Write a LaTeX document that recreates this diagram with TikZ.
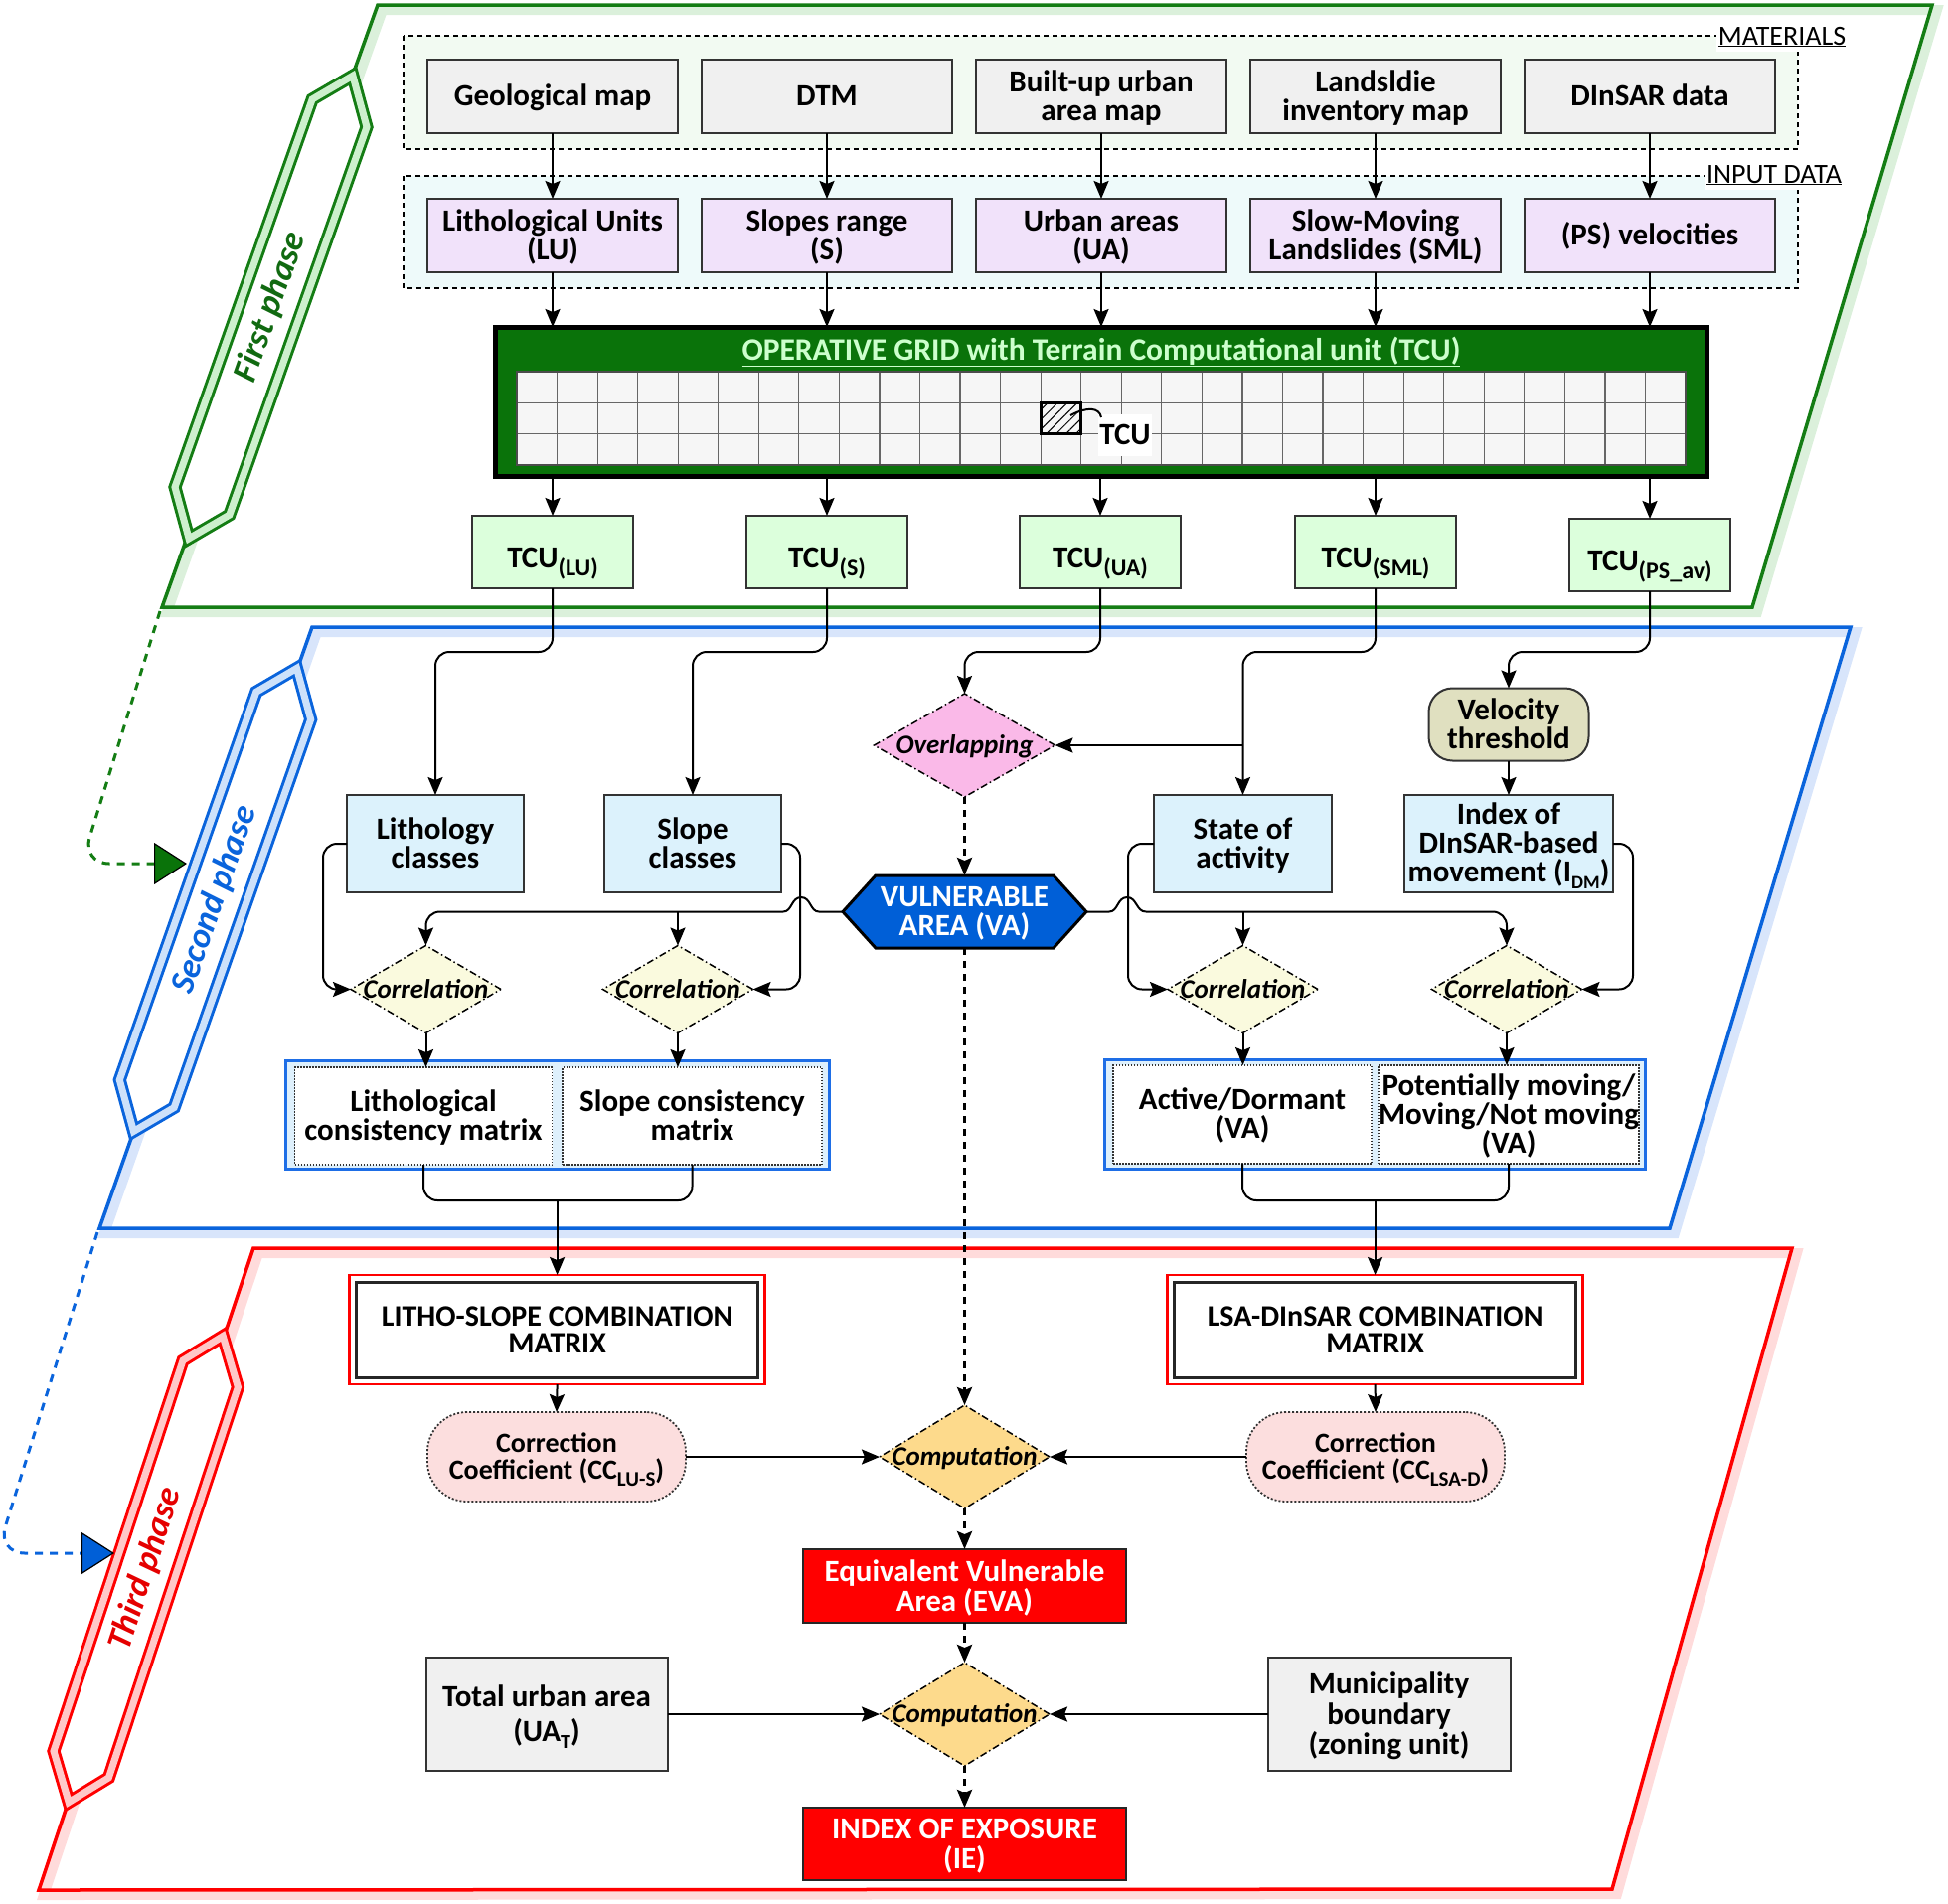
\documentclass[tikz,border=0pt]{standalone}
\usepackage{fontspec}
\setmainfont{Carlito}
\usetikzlibrary{arrows.meta,shapes.geometric,patterns.meta,calc}
\newcommand\setfs[2]{\fontsize{#1}{#2}\selectfont}
\newcommand\lsub[2][22]{\raisebox{-7pt}[0pt][0pt]{\fontsize{#1}{#1}\selectfont #2}}
\newcommand\tcusub[1]{\rule{0pt}{44pt}TCU\raisebox{-8pt}{\fontsize{24}{24}\selectfont #1}}
\newcommand\T[1]{\rule{0pt}{0.904em}#1\rule[-0.26em]{0pt}{0.26em}}
\definecolor{pgreen}{RGB}{20,125,20}
\definecolor{pgreenL}{RGB}{205,240,205}
\definecolor{pgreenS}{RGB}{195,230,195}
\definecolor{pblue}{RGB}{10,100,220}
\definecolor{pblueL}{RGB}{205,225,250}
\definecolor{pblueS}{RGB}{190,212,248}
\definecolor{pred}{RGB}{255,0,0}
\definecolor{predL}{RGB}{255,200,200}
\definecolor{predS}{RGB}{255,195,195}
\definecolor{matfill}{RGB}{242,250,242}
\definecolor{inpfill}{RGB}{238,250,250}
\definecolor{grayfill}{RGB}{240,240,240}
\definecolor{lavfill}{RGB}{241,226,250}
\definecolor{gridgreen}{RGB}{10,115,10}
\definecolor{tcufill}{RGB}{220,255,220}
\definecolor{lbfill}{RGB}{220,242,252}
\definecolor{pinkdia}{RGB}{250,185,232}
\definecolor{ylwdia}{RGB}{250,250,222}
\definecolor{velfill}{RGB}{224,224,192}
\definecolor{vablue}{RGB}{0,95,215}
\definecolor{grpblue}{RGB}{30,110,230}
\definecolor{grpfill}{RGB}{222,240,252}
\definecolor{ccfill}{RGB}{252,222,222}
\definecolor{compfill}{RGB}{253,218,140}
\definecolor{titlegreen}{RGB}{205,255,205}
\tikzset{
  every node/.style={inner sep=0pt, outer sep=0pt},
  tx/.style={font=\setfs{31}{29}\bfseries, align=center},
  wh/.style 2 args={minimum width=#1, minimum height=#2},
  nbox/.style={tx, draw=black!80, line width=2pt},
  arr/.style={line width=2pt, -{Stealth[length=18pt,width=15pt,inset=3pt]}},
  darr/.style={line width=3pt, dash pattern=on 7pt off 6pt, -{Stealth[length=18pt,width=15pt,inset=3pt]}},
  diam/.style={shape=diamond, draw=black, line width=1.5pt, dash pattern=on 7pt off 3pt on 1.5pt off 3pt},
  dlab/.style={font=\setfs{27}{27}\bfseries\itshape},
  framebox/.style={fill=#1, line width=2.2pt, dash pattern=on 5pt off 4pt},
  phaseband/.style={draw=#1, line width=3pt, double distance=7pt, fill=white},
  inbox/.style={tx, fill=white, draw=black!80, line width=1.5pt, dash pattern=on 1.5pt off 1.5pt},
  flab/.style={fill=white, inner xsep=2pt, font=\setfs{28}{28}},
}
\begin{document}
\begin{tikzpicture}[x=1pt,y=-1pt]
\useasboundingbox (0,0) rectangle (1960,1915);

% ---------- phase frames ----------
\draw[pgreenS, line width=10pt, opacity=0.6, shift={(5,5)}] (380,5) -- (1944,5) -- (1763,611) -- (163,611) -- cycle;
\draw[pgreen, line width=3.5pt] (380,5) -- (1944,5) -- (1763,611) -- (163,611) -- cycle;
\draw[pblueS, line width=10pt, opacity=0.6, shift={(5,5)}] (314,631) -- (1862,631) -- (1680,1236) -- (100,1236) -- cycle;
\draw[pblue, line width=3.5pt] (314,631) -- (1862,631) -- (1680,1236) -- (100,1236) -- cycle;
\draw[predS, line width=10pt, opacity=0.6, shift={(5,5)}] (255,1256) -- (1803,1256) -- (1622,1901) -- (39,1902) -- cycle;
\draw[pred, line width=3.5pt] (255,1256) -- (1803,1256) -- (1622,1901) -- (39,1902) -- cycle;

% phase labels
\begin{scope}[shift={(272.5,309)}, rotate=70.5]
\draw[phaseband=pgreen, double=pgreenL] (247,0) -- (203,30.5) -- (-211,30.5) -- (-247,0) -- (-203,-30.5) -- (211,-30.5) -- cycle;
\node[rotate=70.5, text=pgreen!85!black, font=\setfs{35}{35}\bfseries\itshape] (ph1) at (0,0) {First phase};
\end{scope}
\begin{scope}[shift={(216.5,905.4)}, rotate=70.6]
\draw[phaseband=pblue, double=pblueL] (247,0) -- (203,30.5) -- (-211,30.5) -- (-247,0) -- (-203,-30.5) -- (211,-30.5) -- cycle;
\node[rotate=70.6, text=pblue, font=\setfs{35}{35}\bfseries\itshape] (ph2) at (0,0) {Second phase};
\end{scope}
\begin{scope}[shift={(146.7,1579)}, rotate=71.7]
\draw[phaseband=pred, double=predL] (247,0) -- (203,30.5) -- (-211,30.5) -- (-247,0) -- (-203,-30.5) -- (211,-30.5) -- cycle;
\node[rotate=71.7, text=pred!90!black, font=\setfs{35}{35}\bfseries\itshape] (ph3) at (0,0) {Third phase};
\end{scope}

% phase links
\coordinate (g1s) at (161,615);
\coordinate (g1e) at (188,869);
\draw[pgreen, line width=3pt, dash pattern=on 8pt off 7pt, rounded corners=28pt,
  -{Triangle[length=33pt,width=42pt,color=black,fill=gridgreen,line width=1.2pt]}]
  (g1s) -- (82,869) -- (g1e);
\coordinate (b1s) at (98,1240);
\coordinate (b1e) at (115,1563);
\draw[pblue, line width=3pt, dash pattern=on 8pt off 7pt, rounded corners=28pt,
  -{Triangle[length=33pt,width=42pt,color=black,fill=vablue,line width=1.2pt]}]
  (b1s) -- (-3,1563) -- (b1e);

% ---------- first phase ----------
\draw[framebox=matfill] (406,36) rectangle (1809,150);
\node[flab] (matlab) at (1793,36) {\T{\underline{MATERIALS}}};
\draw[framebox=inpfill] (406,177) rectangle (1809,290);
\node[flab] (inplab) at (1785,175) {\T{\underline{INPUT DATA}}};

\node[nbox, fill=grayfill, wh={252}{74}] (geo) at (556,97) {\T{Geological map}};
\node[nbox, fill=grayfill, wh={252}{74}] (dtm) at (832,97) {\T{DTM}};
\node[nbox, fill=grayfill, wh={252}{74}] (bua) at (1108,97) {\T{Built-up urban\\area map}};
\node[nbox, fill=grayfill, wh={252}{74}] (lim) at (1384,97) {\T{Landsldie\\inventory map}};
\node[nbox, fill=grayfill, wh={252}{74}] (dins) at (1660,97) {\T{DInSAR data}};

\node[nbox, fill=lavfill, wh={252}{74}] (lu) at (556,237) {\T{Lithological Units\\(LU)}};
\node[nbox, fill=lavfill, wh={252}{74}] (sr) at (832,237) {\T{Slopes range\\(S)}};
\node[nbox, fill=lavfill, wh={252}{74}] (ua) at (1108,237) {\T{Urban areas\\(UA)}};
\node[nbox, fill=lavfill, wh={252}{74}] (sml) at (1384,237) {\T{Slow-Moving\\Landslides (SML)}};
\node[nbox, fill=lavfill, wh={252}{74}] (ps) at (1660,237) {\T{(PS) velocities}};

\foreach \a/\b in {geo/lu, dtm/sr, bua/ua, lim/sml, dins/ps}
  \draw[arr] (\a.south) -- (\b.north);

% operative grid
\node[draw=black, line width=5pt, fill=gridgreen, wh={1219}{150}] (grid) at (1107.5,404) {};
\node[font=\setfs{31.5}{30}\bfseries, text=titlegreen] (gtitle) at (1108,352) {\T{\underline{OPERATIVE GRID with Terrain Computational unit (TCU)}}};
\fill[gray!7] (520,374) rectangle (1696,468);
\foreach \i in {1,...,28}
  \draw[black!60, line width=1.2pt] ({520+\i*40.552},374) -- ({520+\i*40.552},468);
\foreach \j in {1,2}
  \draw[black!60, line width=1.2pt] (520,{374+\j*31.33}) -- (1696,{374+\j*31.33});
\draw[black!70, line width=2pt] (520,374) rectangle (1696,468);
\draw[line width=3pt, pattern={Lines[angle=45,distance=7pt,line width=1pt]}] (1047.2,405.3) rectangle (1087.7,436.7);
\node[tx, fill=white, wh={54}{42}] (tcul) at (1132,438) {\T{TCU}};
\draw[line width=2pt] (1077,418) .. controls (1094,409) and (1106,410) .. (1108,420);

\node[nbox, fill=tcufill, wh={162}{73}] (tlu) at (556,555.5) {\tcusub{(LU)}};
\node[nbox, fill=tcufill, wh={162}{73}] (ts) at (832,555.5) {\tcusub{(S)}};
\node[nbox, fill=tcufill, wh={162}{73}] (tua) at (1107,555.5) {\tcusub{(UA)}};
\node[nbox, fill=tcufill, wh={162}{73}] (tsml) at (1384,555.5) {\tcusub{(SML)}};
\node[nbox, fill=tcufill, wh={162}{73}] (tps) at (1660,558.5) {\tcusub{(PS\_av)}};

\foreach \a/\b in {lu/tlu, sr/ts, ua/tua, sml/tsml, ps/tps}{
  \draw[arr] (\a.south) -- (\a.south |- grid.north);
  \draw[arr] (\b.north |- grid.south) -- (\b.north);
}

% ---------- second phase ----------
\node[nbox, fill=lbfill, wh={178}{98}] (litho) at (438,849) {\T{Lithology\\classes}};
\node[nbox, fill=lbfill, wh={178}{98}] (slope) at (697,849) {\T{Slope\\classes}};
\node[nbox, fill=lbfill, wh={179}{98}] (state) at (1250.5,849) {\T{State of\\activity}};
\node[nbox, fill=velfill, rounded corners=24pt, wh={161}{73}] (vel) at (1518,729) {\T{Velocity\\threshold}};
\node[nbox, fill=lbfill, wh={210}{98}] (idx) at (1518,849) {\T{Index of\\DInSAR-based\\movement (I\lsub[19]{DM})}};

\node[diam, fill=pinkdia, wh={182}{104}, label={[dlab]center:\T{Overlapping}}] (ovl) at (970.5,750) {};

\filldraw[fill=vablue, draw=black, line width=3pt] (848,917.5) -- (881,881) -- (1060,881) -- (1093,917.5) -- (1060,954) -- (881,954) -- cycle;
\node[tx, text=white, wh={245}{73}] (va) at (970.5,917.5) {\T{VULNERABLE\\AREA (VA)}};

\node[diam, fill=ylwdia, wh={151}{88}, label={[dlab]center:\T{Correlation}}] (c1) at (428.5,995.5) {};
\node[diam, fill=ylwdia, wh={151}{88}, label={[dlab]center:\T{Correlation}}] (c2) at (682,995.5) {};
\node[diam, fill=ylwdia, wh={151}{88}, label={[dlab]center:\T{Correlation}}] (c3) at (1250.5,995.5) {};
\node[diam, fill=ylwdia, wh={151}{88}, label={[dlab]center:\T{Correlation}}] (c4) at (1516,995.5) {};

\node[draw=grpblue, line width=3pt, fill=grpfill, wh={547}{109}] (grp1) at (560.5,1121.5) {};
\node[inbox, wh={259}{98}] (lcm) at (426,1123) {\T{Lithological\\consistency matrix}};
\node[inbox, wh={261}{98}] (scm) at (696.5,1123) {\T{Slope consistency\\matrix}};
\node[draw=grpblue, line width=3pt, fill=grpfill, wh={544}{110}] (grp2) at (1383,1121) {};
\node[inbox, wh={260}{99}] (ad) at (1250,1121.5) {\T{Active/Dormant\\(VA)}};
\node[inbox, wh={260}{99}] (pm) at (1518,1121.5) {\T{Potentially moving/\\Moving/Not moving\\(VA)}};

\coordinate (h1) at (0,656);
\coordinate (hv) at (0,917.5);
\coordinate (hb) at (0,1208);
\coordinate (l1) at (325,0);
\coordinate (l2) at (805,0);
\coordinate (l3) at (1135,0);
\coordinate (l4) at (1643,0);

\draw[arr, rounded corners=14pt] (tlu.south) -- (tlu.south |- h1) -- (litho.north |- h1) -- (litho.north);
\draw[arr, rounded corners=14pt] (ts.south) -- (ts.south |- h1) -- (slope.north |- h1) -- (slope.north);
\draw[arr, rounded corners=14pt] (tua.south) -- (tua.south |- h1) -- (ovl.north |- h1) -- (ovl.north);
\draw[arr, rounded corners=14pt] (tsml.south) -- (tsml.south |- h1) -- (state.north |- h1) -- (state.north);
\draw[arr] (state.north |- ovl.east) -- (ovl.east);
\draw[arr, rounded corners=14pt] (tps.south) -- (tps.south |- h1) -- (vel.north |- h1) -- (vel.north);
\draw[arr] (vel.south) -- (idx.north);

\draw[darr] (ovl.south) -- (va.north);

% loops to correlations
\draw[arr, rounded corners=14pt] (litho.west) -- (litho.west -| l1) -- (c1.west -| l1) -- (c1.west);
\draw[arr, rounded corners=14pt] (slope.east) -- (slope.east -| l2) -- (c2.east -| l2) -- (c2.east);
\draw[arr, rounded corners=14pt] (state.west) -- (state.west -| l3) -- (c3.west -| l3) -- (c3.west);
\draw[arr, rounded corners=14pt] (idx.east) -- (idx.east -| l4) -- (c4.east -| l4) -- (c4.east);

% VA distribution lines with jumps
\draw[line width=2pt] (va.west) -- (824,917.5) .. controls (815,917.5) and (816,903) .. (806,903) .. controls (796,903) and (797,917.5) .. (788,917.5);
\draw[arr, rounded corners=14pt] (788,917.5) -- (c1.north |- hv) -- (c1.north);
\draw[arr] (c2.north |- hv) -- (c2.north);
\draw[line width=2pt] (va.east) -- (1116,917.5) .. controls (1125,917.5) and (1124,903) .. (1134,903) .. controls (1144,903) and (1143,917.5) .. (1153,917.5);
\draw[arr, rounded corners=14pt] (1153,917.5) -- (c4.north |- hv) -- (c4.north);
\draw[arr] (c3.north |- hv) -- (c3.north);

\draw[arr] (c1.south) -- (c1.south |- lcm.north);
\draw[arr] (c2.south) -- (c2.south |- scm.north);
\draw[arr] (c3.south) -- (c3.south |- ad.north);
\draw[arr] (c4.south) -- (c4.south |- pm.north);

% ---------- third phase ----------
\node[tx, font=\setfs{30}{27}\bfseries, draw=pred, line width=2.5pt, fill=white, wh={418}{110}] (lscm) at (560.6,1338) {\T{LITHO-SLOPE COMBINATION\\MATRIX}};
\draw[black!85, line width=3pt] ([shift={(7,-7)}]lscm.south west) rectangle ([shift={(-7,7)}]lscm.north east);
\node[tx, font=\setfs{30}{27}\bfseries, draw=pred, line width=2.5pt, fill=white, wh={418}{110}] (lsa) at (1383.6,1338) {\T{LSA-DInSAR COMBINATION\\MATRIX}};
\draw[black!85, line width=3pt] ([shift={(7,-7)}]lsa.south west) rectangle ([shift={(-7,7)}]lsa.north east);

\draw[line width=2pt, rounded corners=14pt] (lcm.south) -- (lcm.south |- hb) -- (scm.south |- hb) -- (scm.south);
\draw[arr] (lscm.north |- hb) -- (lscm.north);
\draw[line width=2pt, rounded corners=14pt] (ad.south) -- (ad.south |- hb) -- (pm.south |- hb) -- (pm.south);
\draw[arr] (lsa.north |- hb) -- (lsa.north);

\node[tx, font=\setfs{28}{27}\bfseries, fill=ccfill, draw=black!80, line width=1.8pt, dash pattern=on 2pt off 2pt, rounded corners=40pt, wh={260}{90}] (ccl) at (560,1466) {\T{Correction\\Coefficient (CC\lsub[21]{LU-S})}};
\node[tx, font=\setfs{28}{27}\bfseries, fill=ccfill, draw=black!80, line width=1.8pt, dash pattern=on 2pt off 2pt, rounded corners=40pt, wh={260}{90}] (ccr) at (1384,1466) {\T{Correction\\Coefficient (CC\lsub[21]{LSA-D})}};
\draw[arr] (lscm.south) -- (ccl.north);
\draw[arr] (lsa.south) -- (ccr.north);

\node[diam, fill=compfill, wh={171}{104}, label={[dlab]center:\T{Computation}}] (comp1) at (970.5,1466) {};
\draw[arr] (ccl.east) -- (comp1.west);
\draw[arr] (ccr.west) -- (comp1.east);
\draw[darr] (va.south) -- (comp1.north);

\node[tx, font=\setfs{31}{30}\bfseries, text=white, fill=pred, draw=black!85, line width=2pt, wh={325}{74}] (eva) at (970.5,1596) {\T{Equivalent Vulnerable\\Area (EVA)}};
\draw[darr] (comp1.south) -- (eva.north);

\node[diam, fill=compfill, wh={171}{104}, label={[dlab]center:\T{Computation}}] (comp2) at (970.5,1725) {};
\draw[darr] (eva.south) -- (comp2.north);

\node[nbox, fill=grayfill, wh={243}{114}] (uat) at (550,1725) {\T{Total urban area\\[6pt](UA\lsub[20]{T})}};
\node[nbox, font=\setfs{31}{30.5}\bfseries, fill=grayfill, wh={244}{114}] (mub) at (1397.5,1725) {\T{Municipality\\boundary\\(zoning unit)}};
\draw[arr] (uat.east) -- (comp2.west);
\draw[arr] (mub.west) -- (comp2.east);

\node[tx, font=\setfs{31}{30}\bfseries, text=white, fill=pred, draw=black!85, line width=2pt, wh={325}{73}] (ie) at (970.5,1855.5) {\T{INDEX OF EXPOSURE\\(IE)}};
\draw[darr] (comp2.south) -- (ie.north);
\end{tikzpicture}
\end{document}
